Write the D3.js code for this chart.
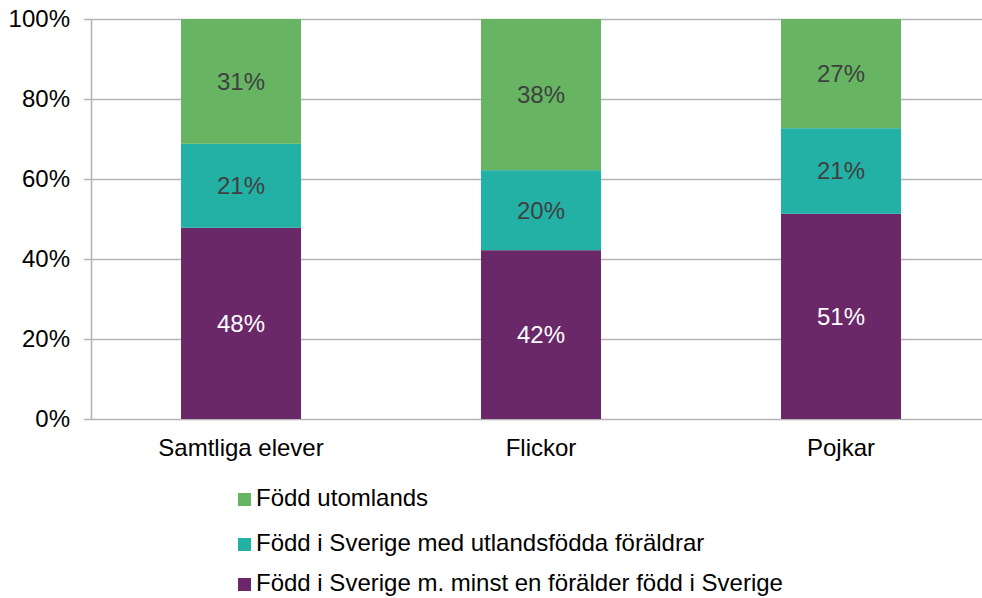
<!DOCTYPE html>
<html>
<head>
<meta charset="utf-8">
<script src="https://cdn.jsdelivr.net/npm/d3@7"></script>
<style>
  body { margin: 0; background: #fff; }
  text { font-family: "Liberation Sans", Arial, sans-serif; }
</style>
</head>
<body>
<div class="card"></div>
<script>
/* global d3 */

// data (percent)
var categories = ["Samtliga elever", "Flickor", "Pojkar"];
var seriesNames = [
  "Född i Sverige m. minst en förälder född i Sverige",
  "Född i Sverige med utlandsfödda föräldrar",
  "Född utomlands"
];
var inSweden = [47.8, 42.2, 51.3];
var parentsAbroad = [21.0, 20.0, 21.4];
var bornAbroad = [31.2, 37.8, 27.3];
var yTicks = [0, 20, 40, 60, 80, 100];

var colors = ["#6b2868", "#23b0a5", "#67b563"];
var labelColors = ["#ffffff", "#404040", "#404040"];

var width = 982, height = 598;
var margin = { left: 91, right: -9, top: 19, bottom: 179 };
var fontSize = 24;

var svg = d3.select(".card").append("svg")
  .attr("width", width)
  .attr("height", height);

var x = d3.scaleBand()
  .domain(categories)
  .range([margin.left, width - margin.right])
  .paddingInner(0.6)
  .paddingOuter(0.3);

var y = d3.scaleLinear()
  .domain([0, 100])
  .range([height - margin.bottom, margin.top]);

var table = categories.map(function(c, i) {
  var row = { cat: c };
  row[seriesNames[0]] = inSweden[i];
  row[seriesNames[1]] = parentsAbroad[i];
  row[seriesNames[2]] = bornAbroad[i];
  return row;
});

var stack = d3.stack().keys(seriesNames);
var layers = stack(table);

// gridlines
svg.append("g")
  .selectAll("line")
  .data(yTicks)
  .enter().append("line")
  .attr("x1", margin.left - 7)
  .attr("x2", width)
  .attr("y1", function(d) { return Math.round(y(d)) + 0.5; })
  .attr("y2", function(d) { return Math.round(y(d)) + 0.5; })
  .attr("stroke", "#b4b4b4")
  .attr("stroke-width", 1.6);

// y axis line
svg.append("line")
  .attr("x1", margin.left + 0.5).attr("x2", margin.left + 0.5)
  .attr("y1", y(100)).attr("y2", y(0))
  .attr("stroke", "#b4b4b4")
  .attr("stroke-width", 1.6);

// y tick labels
svg.append("g")
  .selectAll("text")
  .data(yTicks)
  .enter().append("text")
  .attr("x", margin.left - 21)
  .attr("y", function(d) { return y(d); })
  .attr("dy", "0.35em")
  .attr("text-anchor", "end")
  .attr("font-size", fontSize)
  .attr("fill", "#000")
  .text(function(d) { return d + "%"; });

// bars
var g = svg.selectAll(".layer").data(layers).enter().append("g")
  .attr("class", "layer")
  .attr("fill", function(d, i) { return colors[i]; });

g.selectAll("rect")
  .data(function(d) { return d; })
  .enter().append("rect")
  .attr("x", function(d) { return x(d.data.cat); })
  .attr("width", x.bandwidth())
  .attr("y", function(d) { return y(Math.min(d[1], 100)); })
  .attr("height", function(d) { return y(d[0]) - y(Math.min(d[1], 100)); });

// value labels
layers.forEach(function(layer, li) {
  svg.append("g")
    .selectAll("text")
    .data(layer)
    .enter().append("text")
    .attr("x", function(d) { return x(d.data.cat) + x.bandwidth() / 2; })
    .attr("y", function(d) { return y((d[0] + Math.min(d[1], 100)) / 2); })
    .attr("dy", "0.35em")
    .attr("text-anchor", "middle")
    .attr("font-size", fontSize)
    .attr("fill", labelColors[li])
    .text(function(d) { return Math.round(d[1] - d[0]) + "%"; });
});

// category labels
svg.append("g")
  .selectAll("text")
  .data(categories)
  .enter().append("text")
  .attr("x", function(d) { return x(d) + x.bandwidth() / 2; })
  .attr("y", y(0) + 37)
  .attr("text-anchor", "middle")
  .attr("font-size", fontSize)
  .attr("fill", "#000")
  .text(function(d) { return d; });

// legend (reverse order, top = born abroad)
var legendItems = seriesNames.map(function(n, i) { return { name: n, color: colors[i] }; }).reverse();
var legendBase = [506, 551, 591];
var lg = svg.append("g").selectAll("g")
  .data(legendItems)
  .enter().append("g")
  .attr("transform", function(d, i) { return "translate(238," + legendBase[i] + ")"; });

lg.append("rect")
  .attr("x", 0).attr("y", -13)
  .attr("width", 13).attr("height", 13)
  .attr("fill", function(d) { return d.color; });

lg.append("text")
  .attr("x", 18)
  .attr("y", 0)
  .attr("font-size", fontSize)
  .attr("fill", "#000")
  .text(function(d) { return d.name; });
</script>
</body>
</html>
